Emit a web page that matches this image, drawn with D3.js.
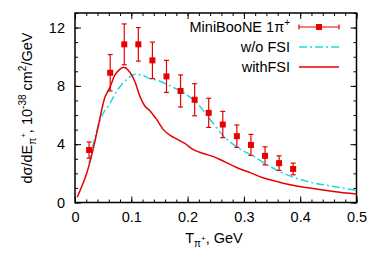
<!DOCTYPE html>
<html>
<head>
<meta charset="utf-8">
<script src="https://cdn.jsdelivr.net/npm/d3@7"></script>
<style>
  body { margin: 0; background: #fff; }
  text { font-family: "Liberation Sans", Arial, sans-serif; font-size: 14.5px; fill: #000; }
</style>
</head>
<body>
<div id="chart"></div>
<script>
// MiniBooNE 1pi+ data
const dataX = [0.025, 0.0625, 0.0875, 0.1125, 0.1375, 0.1625, 0.1875, 0.2125, 0.2375, 0.2625, 0.2875, 0.3125, 0.3375, 0.3625, 0.3875];
const dataY = [3.6, 8.9, 10.85, 10.85, 9.75, 8.65, 7.65, 7.05, 6.15, 5.35, 4.55, 3.95, 3.2, 2.7, 2.3];
const dataErr = [0.55, 1.25, 1.4, 1.15, 1.25, 1.1, 1.1, 1.1, 1.0, 0.9, 0.77, 0.72, 0.62, 0.5, 0.4];

// with FSI (red solid)
const fsiX = [0.004, 0.012, 0.021, 0.03, 0.04, 0.053, 0.062, 0.071, 0.08, 0.086, 0.095, 0.107, 0.115, 0.124, 0.133, 0.145, 0.157, 0.169, 0.181, 0.195, 0.21, 0.228, 0.246, 0.263, 0.287, 0.311, 0.334, 0.358, 0.382, 0.417, 0.459, 0.5];
const fsiY = [0.37, 1.1, 2.03, 3.3, 5.0, 7.2, 7.9, 8.75, 9.15, 9.27, 9.05, 8.23, 7.31, 6.62, 6.3, 5.7, 5.0, 4.6, 4.35, 4.05, 3.63, 3.36, 3.15, 2.85, 2.4, 2.05, 1.7, 1.45, 1.22, 0.99, 0.76, 0.58];

// w/o FSI (cyan dash-dot)
const noFsiX = [0.025, 0.0325, 0.044, 0.062, 0.077, 0.092, 0.107, 0.121, 0.133, 0.145, 0.169, 0.192, 0.216, 0.24, 0.263, 0.29, 0.317, 0.34, 0.376, 0.412, 0.459, 0.5];
const noFsiY = [2.7, 4.0, 5.6, 6.8, 7.8, 8.45, 8.8, 8.7, 8.5, 8.4, 8.0, 7.55, 6.85, 5.7, 4.6, 3.75, 3.17, 2.6, 1.91, 1.45, 1.1, 0.83];

const xTicks = [0, 0.1, 0.2, 0.3, 0.4, 0.5];
const yTicks = [0, 4, 8, 12];

const W = 385, H = 258;
const pL = 75, pR = 356.5, pT = 13, pB = 202.5;
const red = "#e60000", cyan = "#19d9e6";

const svg = d3.select("#chart").append("svg")
  .attr("width", W).attr("height", H);

const x = d3.scaleLinear().domain([0, 0.5]).range([pL, pR]);
const y = d3.scaleLinear().domain([0, 13]).range([pB, pT]);

// minor ticks
const xMinor = d3.range(0, 0.5001, 0.02);
const yMinor = d3.range(0, 13.001, 1);

function ticks(axis, pos, vals, size, fmt) {
  const g = svg.append("g").attr("transform", pos)
    .call(axis.tickValues(vals).tickSizeInner(size).tickSizeOuter(0).tickFormat(fmt));
  g.select(".domain").remove();
  g.selectAll("line").attr("stroke", "#000").attr("stroke-width", 1);
  return g;
}
const none = () => "";
ticks(d3.axisBottom(x), `translate(0,${pB})`, xMinor, -3, none);
ticks(d3.axisTop(x), `translate(0,${pT})`, xMinor, -3, none);
ticks(d3.axisLeft(y), `translate(${pL},0)`, yMinor, -3, none);
ticks(d3.axisRight(y), `translate(${pR},0)`, yMinor, -3, none);

const gx = ticks(d3.axisBottom(x), `translate(0,${pB})`, xTicks, -6, d3.format(".1~f"));
gx.selectAll("text").attr("y", 9).attr("dy", "0.71em").style("font-size", "14.5px").style("font-family", "Liberation Sans, Arial, sans-serif");
ticks(d3.axisTop(x), `translate(0,${pT})`, xTicks, -6, none);
const gy = ticks(d3.axisLeft(y), `translate(${pL},0)`, yTicks, -6, d3.format("d"));
gy.selectAll("text").attr("x", -10).style("font-size", "14.5px").style("font-family", "Liberation Sans, Arial, sans-serif");
ticks(d3.axisRight(y), `translate(${pR},0)`, yTicks, -6, none);

svg.append("rect")
  .attr("x", pL).attr("y", pT)
  .attr("width", pR - pL).attr("height", pB - pT)
  .attr("fill", "none").attr("stroke", "#000").attr("stroke-width", 1.5);

// curves
const line = d3.line().x(d => x(d[0])).y(d => y(d[1])).curve(d3.curveMonotoneX);
svg.append("path")
  .datum(noFsiX.map((v, i) => [v, noFsiY[i]]))
  .attr("d", line).attr("fill", "none")
  .attr("stroke", cyan).attr("stroke-width", 1.5)
  .attr("stroke-dasharray", "8,3,2,3");
svg.append("path")
  .datum(fsiX.map((v, i) => [v, fsiY[i]]))
  .attr("d", line).attr("fill", "none")
  .attr("stroke", red).attr("stroke-width", 1.5);

// data points with error bars
const pts = svg.append("g").selectAll("g")
  .data(dataX.map((v, i) => ({ x: v, y: dataY[i], e: dataErr[i] })))
  .join("g");
pts.append("line")
  .attr("x1", d => x(d.x)).attr("x2", d => x(d.x))
  .attr("y1", d => y(d.y - d.e)).attr("y2", d => y(d.y + d.e))
  .attr("stroke", red).attr("stroke-width", 1.2);
[-1, 1].forEach(s => {
  pts.append("line")
    .attr("x1", d => x(d.x) - 2.5).attr("x2", d => x(d.x) + 2.5)
    .attr("y1", d => y(d.y + s * d.e)).attr("y2", d => y(d.y + s * d.e))
    .attr("stroke", red).attr("stroke-width", 1.2);
});
pts.append("rect")
  .attr("x", d => x(d.x) - 3).attr("y", d => y(d.y) - 3)
  .attr("width", 6).attr("height", 6).attr("fill", red);

// legend
const lg = svg.append("g");
const lx = 290, ls = 299, le = 339;
const rows = [27, 47, 67];
const t1 = lg.append("text").attr("x", lx).attr("y", rows[0] + 5).attr("text-anchor", "end");
t1.append("tspan").text("MiniBooNE 1π");
t1.append("tspan").text("+").attr("dy", -6).style("font-size", "10px");
lg.append("text").attr("x", lx).attr("y", rows[1] + 5).attr("text-anchor", "end").text("w/o FSI");
lg.append("text").attr("x", lx).attr("y", rows[2] + 5).attr("text-anchor", "end").text("withFSI");
lg.append("line").attr("x1", ls).attr("x2", le).attr("y1", rows[0]).attr("y2", rows[0])
  .attr("stroke", red).attr("stroke-width", 1.2);
[ls, le].forEach(p => lg.append("line").attr("x1", p).attr("x2", p)
  .attr("y1", rows[0] - 2.5).attr("y2", rows[0] + 2.5).attr("stroke", red).attr("stroke-width", 1.2));
lg.append("rect").attr("x", (ls + le) / 2 - 3).attr("y", rows[0] - 3)
  .attr("width", 6).attr("height", 6).attr("fill", red);
lg.append("line").attr("x1", ls).attr("x2", le).attr("y1", rows[1]).attr("y2", rows[1])
  .attr("stroke", cyan).attr("stroke-width", 1.5).attr("stroke-dasharray", "8,3,2,3");
lg.append("line").attr("x1", ls).attr("x2", le).attr("y1", rows[2]).attr("y2", rows[2])
  .attr("stroke", red).attr("stroke-width", 1.5);

// axis titles
const xt = svg.append("text").attr("x", 214).attr("y", 243).attr("text-anchor", "middle");
xt.append("tspan").text("T");
xt.append("tspan").text("π").attr("dy", 4).style("font-size", "10px");
xt.append("tspan").text("+").attr("dy", -6).style("font-size", "8px");
xt.append("tspan").text(", GeV").attr("dy", 2).style("font-size", "14.5px");

const yt = svg.append("text")
  .attr("transform", "translate(32,108) rotate(-90)")
  .attr("text-anchor", "middle");
yt.append("tspan").text("dσ/dE");
yt.append("tspan").text("π").attr("dy", 4).style("font-size", "10px");
yt.append("tspan").text("+").attr("dy", -10).style("font-size", "8px");
yt.append("tspan").text(", 10").attr("dy", 6).style("font-size", "14.5px");
yt.append("tspan").text("-38").attr("dy", -6).style("font-size", "10px");
yt.append("tspan").text(" cm").attr("dy", 6).style("font-size", "14.5px");
yt.append("tspan").text("2").attr("dy", -6).style("font-size", "10px");
yt.append("tspan").text("/GeV").attr("dy", 6).style("font-size", "14.5px");
</script>
</body>
</html>
